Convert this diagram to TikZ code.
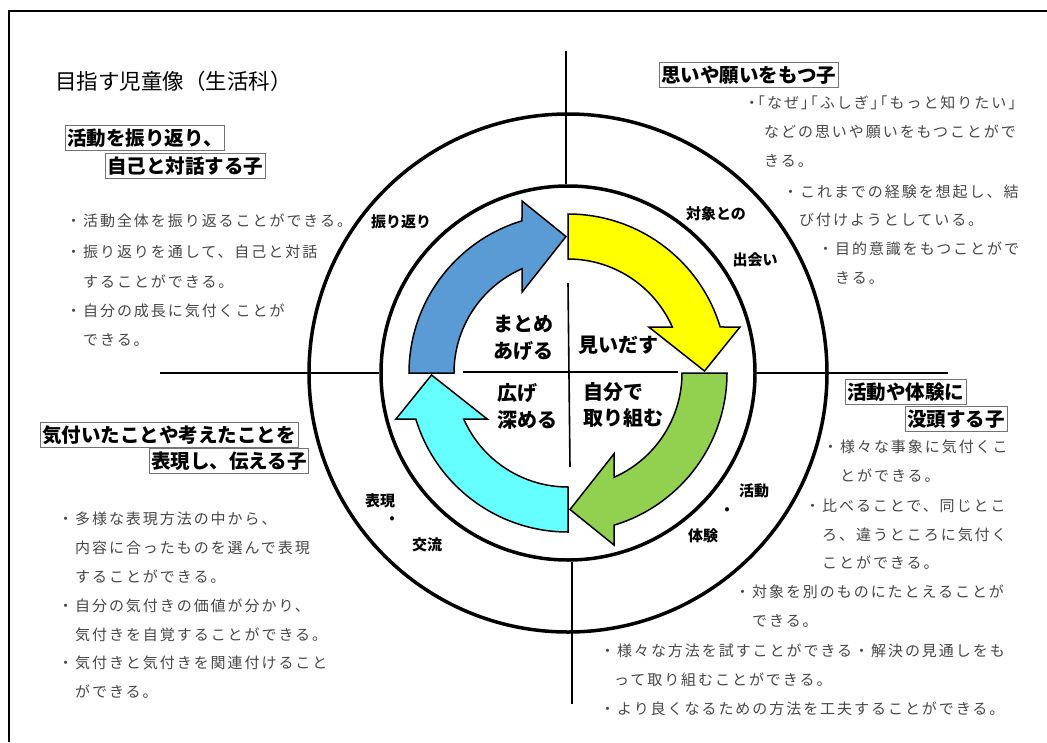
\documentclass[tikz,border=0pt]{standalone}
\usepackage{fontspec}
\setmainfont{Noto Sans CJK JP}
\newfontfamily\bodyf{Noto Sans CJK JP}[LetterSpace=13]
\newfontfamily\halff{Noto Sans CJK JP}[LetterSpace=13,RawFeature=+halt]
\definecolor{arblue}{HTML}{5B9BD5}
\definecolor{aryellow}{HTML}{FFFF00}
\definecolor{argreen}{HTML}{92D050}
\definecolor{arcyan}{HTML}{66FFFF}
\tikzset{
  headbox/.style={draw=black!55, line width=0.9pt, fill=white,
    font=\bfseries\fontsize{19.5}{21}\selectfont, inner xsep=2pt, inner ysep=0pt,
    minimum height=25pt, anchor=west},
  bodytxt/.style={font=\bodyf\fontsize{15}{17}\selectfont, text=black!72, anchor=west, inner sep=0pt},
  ringlbl/.style={font=\bfseries\fontsize{15}{16}\selectfont, inner sep=0pt},
  quadlbl/.style={font=\bfseries\fontsize{20}{22}\selectfont, anchor=west, inner sep=0pt},
  axisline/.style={line width=1.8pt},
  ringcirc/.style={draw, circle, line width=3.5pt, inner sep=0pt},
  arrowshape/.style={draw=black, line width=1.5pt, line join=miter},
}
\newcommand{\cycarrow}[2]{%
  \filldraw[arrowshape, fill=#1, rotate=#2]
    (180:159) arc[start angle=180, end angle=106.82, radius=159]
    -- (-46,172) -- (-2,136.5) -- (-46,80.8) -- (-46,104.3)
    arc[start angle=113.8, end angle=180, radius=114] -- cycle;}
\begin{document}
\begin{tikzpicture}[x=1pt,y=-1pt]
\useasboundingbox (0,0) rectangle (1047,742);
\fill[white] (0,0) rectangle (1047,742);
% frame
\coordinate (fbl) at (9,742);
\coordinate (ftl) at (9,11);
\coordinate (ftr) at (1047,11);
\draw[line width=1.5pt] (fbl) -- (ftl) -- (ftr);

% rings
\node[ringcirc, minimum size=518pt] (outer) at (568,373) {};
\node[ringcirc, minimum size=374pt] (inner) at (568,373) {};

% axis lines
\coordinate (topend) at (566,51);
\coordinate (botend) at (572,704);
\coordinate (leftend) at (160,373);
\coordinate (rightend) at (948,373);
\draw[axisline] (topend) -- (topend |- inner.north);
\draw[axisline] (botend |- inner.south) -- (botend);
\draw[axisline] (leftend) -- (inner.west);
\draw[axisline] (inner.east) -- (rightend);

% inner cross
\coordinate (cl) at (463,372);
\coordinate (cr) at (678,372);
\coordinate (ct) at (568,283);
\coordinate (cb) at (570,467);
\draw[line width=1.6pt] (cl) -- (cr);
\draw[line width=1.6pt] (ct) -- (cb);

% cycle arrows
\begin{scope}[shift={(568pt,-373pt)}, x=1pt, y=1pt]
  \cycarrow{arblue}{0}
  \cycarrow{aryellow}{-90}
  \cycarrow{argreen}{-180}
  \cycarrow{arcyan}{90}
\end{scope}

% title
\node[font=\fontsize{21.5}{23}\selectfont, anchor=west, inner sep=0pt] (title) at (55,81) {目指す児童像（生活科）};

% headings
\node[headbox] (h1a) at (65,138) {活動を振り返り、};
\node[headbox] (h1b) at (105,166) {自己と対話する子};
\node[headbox] (h2) at (659,75) {思いや願いをもつ子};
\node[headbox] (h3a) at (845,392) {活動や体験に};
\node[headbox] (h3b) at (905,419) {没頭する子};
\node[headbox] (h4a) at (40,435) {気付いたことや考えたことを};
\node[headbox] (h4b) at (149,461) {表現し、伝える子};

% ring labels
\node[ringlbl] (lf) at (401,222) {振り返り};
\node[ringlbl] (lt1) at (716,214) {対象との};
\node[ringlbl] (lt2) at (755,260) {出会い};
\node[ringlbl] (la1) at (754,491) {活動};
\node[ringlbl] (ladot) at (727,512) {・};
\node[ringlbl] (la2) at (703,536) {体験};
\node[ringlbl] (le1) at (380,501) {表現};
\node[ringlbl] (ledot) at (392,521) {・};
\node[ringlbl] (le2) at (427,545) {交流};

% quadrant labels
\node[quadlbl] (q1a) at (493,324) {まとめ};
\node[quadlbl] (q1b) at (493,351) {あげる};
\node[quadlbl] (q2) at (578,345) {見いだす};
\node[quadlbl] (q3a) at (497,393) {広げ};
\node[quadlbl] (q3b) at (497,420) {深める};
\node[quadlbl] (q4a) at (583,392) {自分で};
\node[quadlbl] (q4b) at (583,418) {取り組む};

% top-left text
\node[bodytxt] (tl1) at (66,221) {・活動全体を振り返ることができる。};
\node[bodytxt] (tl2) at (66,252) {・振り返りを通して、自己と対話};
\node[bodytxt] (tl3) at (83,282) {することができる。};
\node[bodytxt] (tl4) at (66,311) {・自分の成長に気付くことが};
\node[bodytxt] (tl5) at (83,340) {できる。};

% top-right text
\node[bodytxt, font=\halff\fontsize{15}{17}\selectfont] (tr1) at (748,103) {・「なぜ」「ふしぎ」「もっと知りたい」};
\node[bodytxt] (tr2) at (764,132) {などの思いや願いをもつことがで};
\node[bodytxt] (tr3) at (764,161) {きる。};
\node[bodytxt] (tr4) at (783,192) {・これまでの経験を想起し、結};
\node[bodytxt] (tr5) at (799,220) {び付けようとしている。};
\node[bodytxt] (tr6) at (818,249) {・目的意識をもつことがで};
\node[bodytxt] (tr7) at (835,278) {きる。};

% bottom-left text
\node[bodytxt] (bl1) at (58,519) {・多様な表現方法の中から、};
\node[bodytxt] (bl2) at (75,548) {内容に合ったものを選んで表現};
\node[bodytxt] (bl3) at (75,577) {することができる。};
\node[bodytxt] (bl4) at (58,606) {・自分の気付きの価値が分かり、};
\node[bodytxt] (bl5) at (75,635) {気付きを自覚することができる。};
\node[bodytxt] (bl6) at (58,663) {・気付きと気付きを関連付けること};
\node[bodytxt] (bl7) at (75,692) {ができる。};

% bottom-right text
\node[bodytxt] (br1) at (823,447) {・様々な事象に気付くこ};
\node[bodytxt] (br2) at (840,476) {とができる。};
\node[bodytxt] (br3) at (805,506) {・比べることで、同じとこ};
\node[bodytxt] (br4) at (822,535) {ろ、違うところに気付く};
\node[bodytxt] (br5) at (822,563) {ことができる。};
\node[bodytxt] (br6) at (735,592) {・対象を別のものにたとえることが};
\node[bodytxt] (br7) at (752,621) {できる。};

% bottom text
\node[bodytxt] (bt1) at (600,651) {・様々な方法を試すことができる・解決の見通しをも};
\node[bodytxt] (bt2) at (614,680) {って取り組むことができる。};
\node[bodytxt] (bt3) at (600,709) {・より良くなるための方法を工夫することができる。};
\end{tikzpicture}
\end{document}
